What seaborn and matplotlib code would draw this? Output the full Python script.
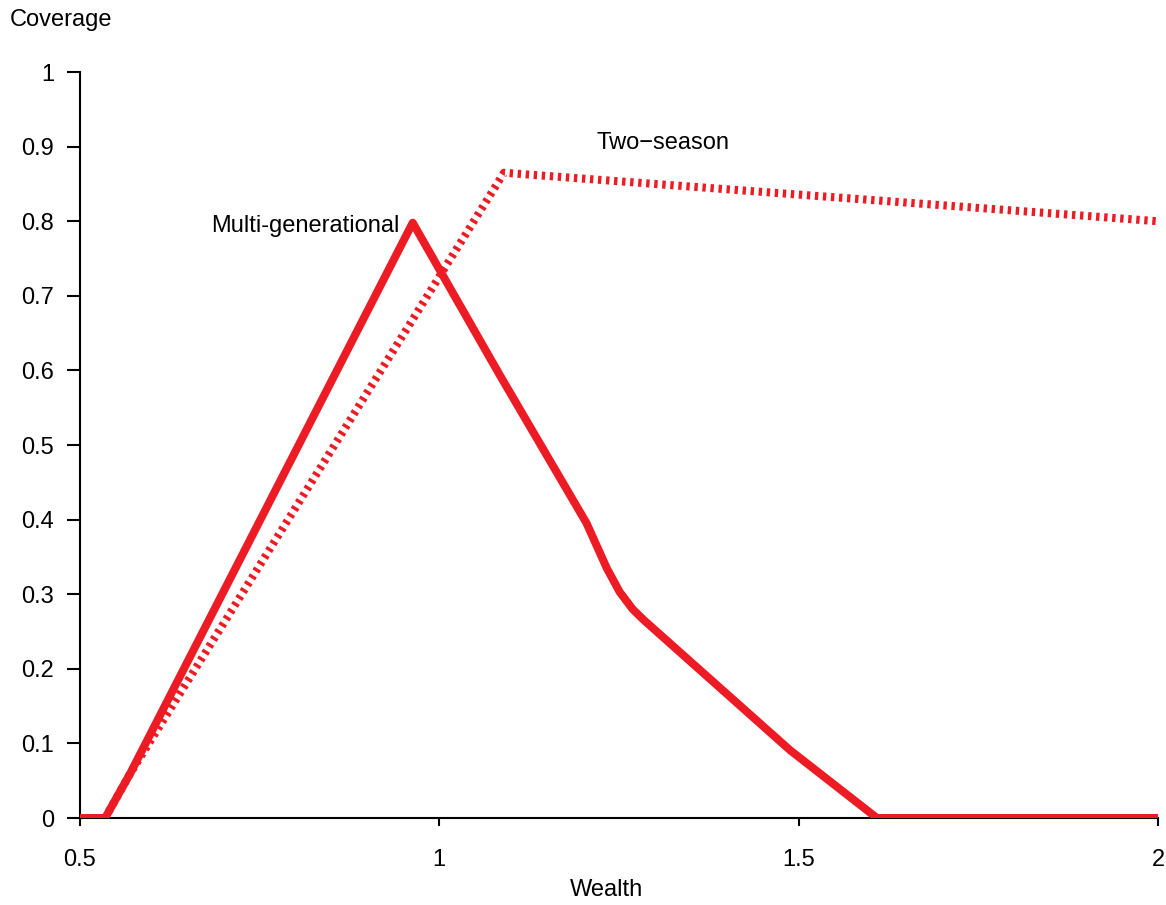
import pandas as pd
import matplotlib.pyplot as plt
import seaborn as sns

# Coverage vs wealth for the two arrangements
multi_wealth = [0.5, 0.535, 0.57, 0.963, 1.084, 1.205, 1.233, 1.251, 1.269, 1.285, 1.488, 1.609, 2.0]
multi_coverage = [0, 0, 0.06, 0.798, 0.594, 0.395, 0.335, 0.303, 0.280, 0.265, 0.091, 0, 0]

two_wealth = [0.5, 0.535, 0.57, 1.09, 2.0]
two_coverage = [0, 0, 0.06, 0.865, 0.80]

x_ticks = [0.5, 1, 1.5, 2]
x_labels = ['0.5', '1', '1.5', '2']
y_ticks = [0, 0.1, 0.2, 0.3, 0.4, 0.5, 0.6, 0.7, 0.8, 0.9, 1]
y_labels = ['0', '0.1', '0.2', '0.3', '0.4', '0.5', '0.6', '0.7', '0.8', '0.9', '1']

red = '#ED1C24'

sns.set_style('ticks')
plt.rcParams['font.family'] = ['Liberation Sans', 'DejaVu Sans']
plt.rcParams['text.color'] = 'black'

df_multi = pd.DataFrame({'Wealth': multi_wealth, 'Coverage': multi_coverage})
df_two = pd.DataFrame({'Wealth': two_wealth, 'Coverage': two_coverage})

fig = plt.figure(figsize=(11.66, 9.05), dpi=100)
ax = fig.add_axes([0.0686, 0.0961, 0.9245, 0.8243])

sns.lineplot(data=df_two, x='Wealth', y='Coverage', ax=ax, color=red,
             linewidth=5.8, linestyle=(0, (0.42, 0.58)), estimator=None, sort=False)
ax.lines[-1].set_dash_capstyle('butt')
sns.lineplot(data=df_multi, x='Wealth', y='Coverage', ax=ax, color=red,
             linewidth=5.8, estimator=None, sort=False)
ax.lines[-1].set_solid_joinstyle('round')

ax.set_xlim(0.5, 2)
ax.set_ylim(0, 1)
ax.set_xticks(x_ticks)
ax.set_xticklabels(x_labels)
ax.set_yticks(y_ticks)
ax.set_yticklabels(y_labels)
ax.set_xlabel('')
ax.set_ylabel('')

for side in ['top', 'right']:
    ax.spines[side].set_visible(False)
for side in ['left', 'bottom']:
    ax.spines[side].set_linewidth(1.5)
    ax.spines[side].set_color('black')
    ax.spines[side].set_zorder(1)

ax.tick_params(axis='y', length=9.5, width=1.5, pad=9, labelsize=17, colors='black')
ax.tick_params(axis='x', length=6, width=1.5, pad=16, labelsize=17, colors='black')

ax.text(0.945, 0.794, 'Multi-generational', ha='right', va='center', fontsize=17, color='black')
ax.text(1.219, 0.905, 'Two\u2212season', ha='left', va='center', fontsize=17, color='black')

fig.text(10 / 1166, 1 - 20 / 905, 'Coverage', ha='left', va='center', fontsize=17, color='black')
fig.text(607 / 1166, 1 - 890 / 905, 'Wealth', ha='center', va='center', fontsize=17, color='black')

plt.savefig('out.png', dpi=100)
print("Chart saved as 'out.png'")
